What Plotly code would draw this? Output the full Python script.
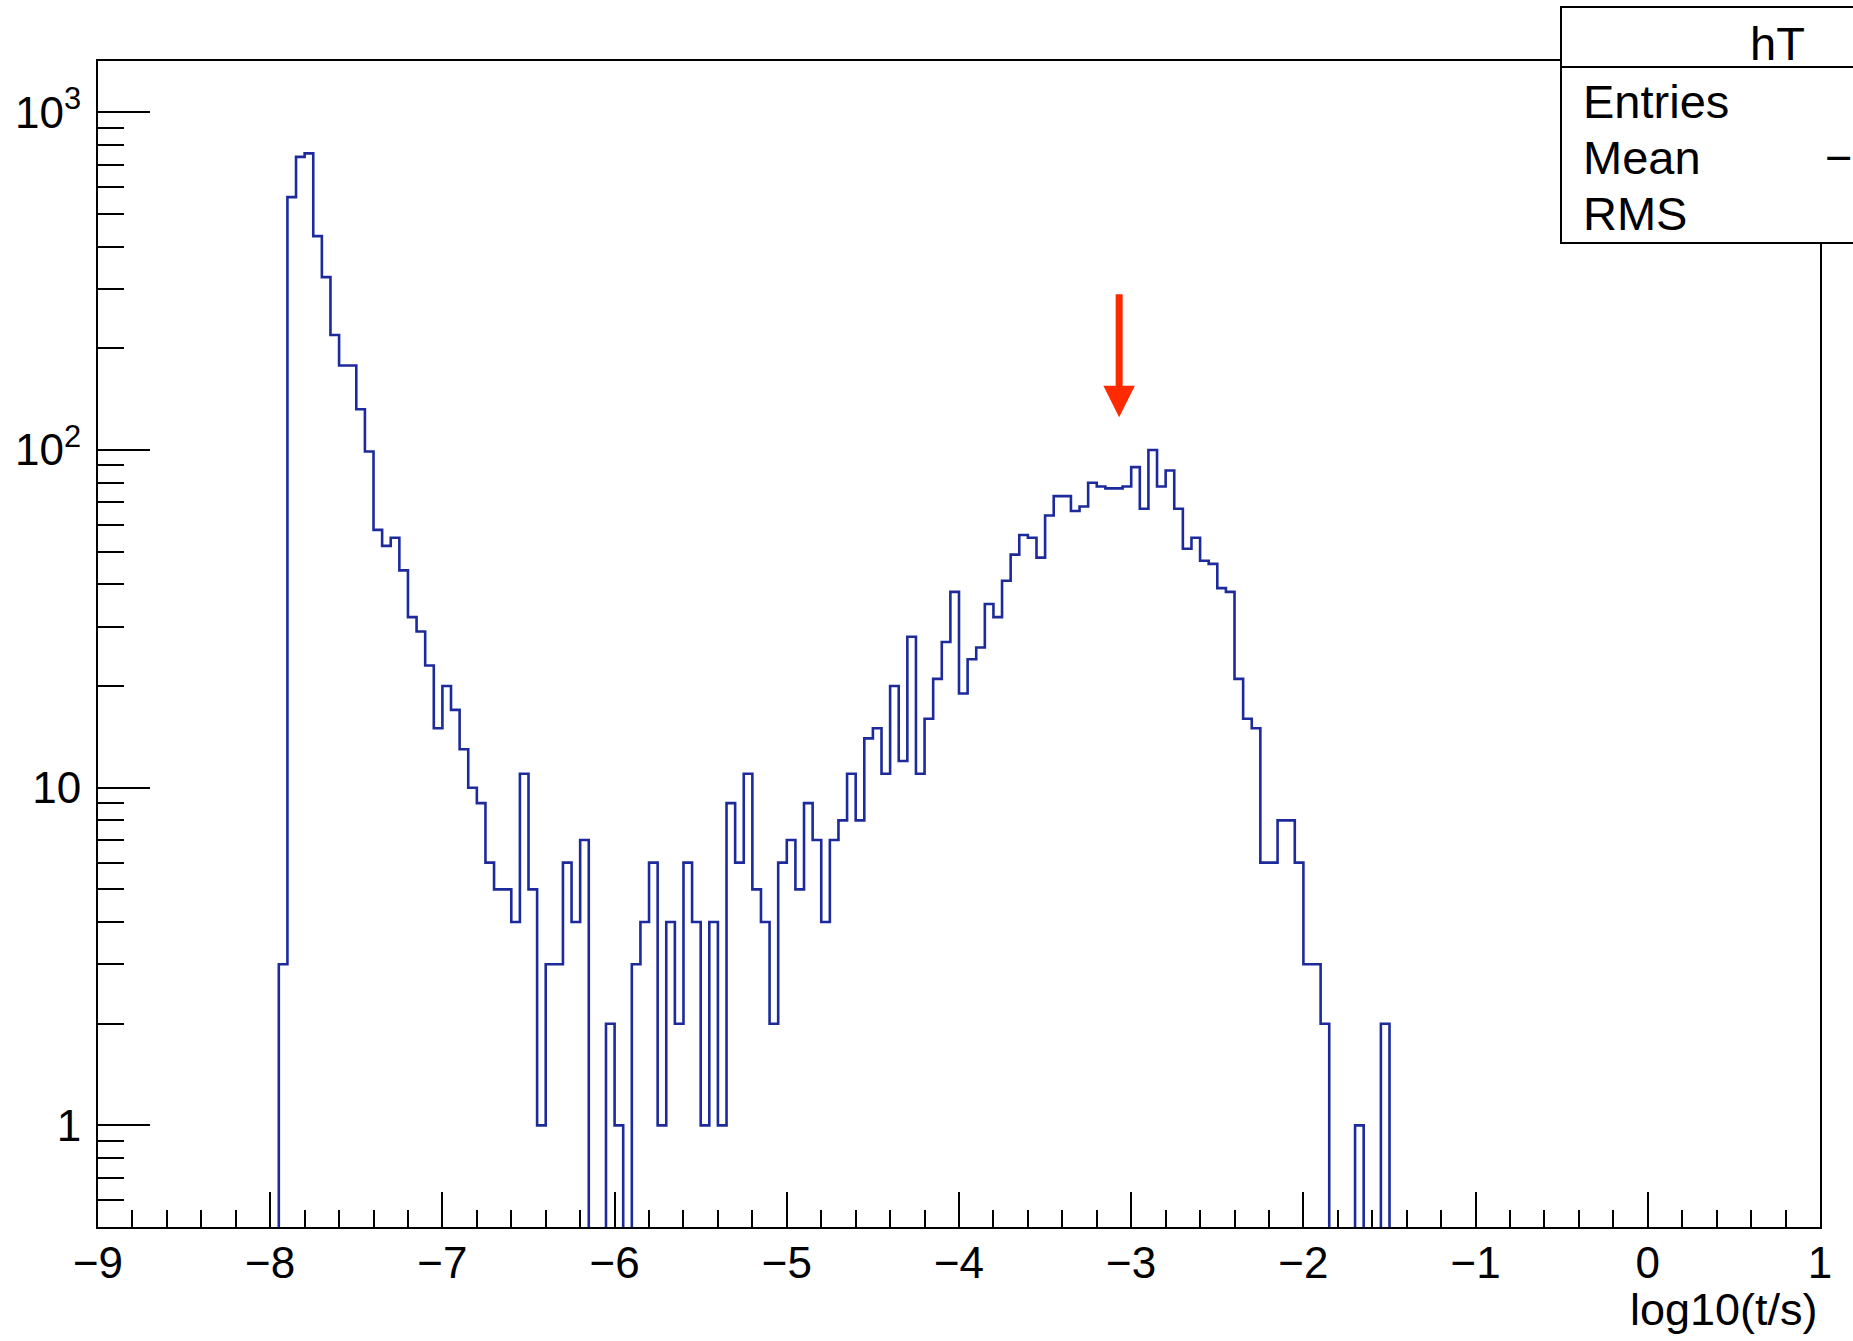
import numpy as np
import plotly.graph_objects as go

# ---------------- data ----------------
bin_low = -9.0
bin_width = 0.05
counts = (
    [0] * 21 +
    [3, 561, 738, 756, 430, 325, 219, 178, 178,            # 21-29
     132, 99, 58, 52, 55, 44, 32, 29, 23, 15,              # 30-39
     20, 17, 13, 10, 9, 6, 5, 5, 4, 11,                    # 40-49
     5, 1, 3, 3, 6, 4, 7, 0, 0, 2,                         # 50-59
     1, 0, 3, 4, 6, 1, 4, 2, 6, 4,                         # 60-69
     1, 4, 1, 9, 6, 11, 5, 4, 2, 6,                        # 70-79
     7, 5, 9, 7, 4, 7, 8, 11, 8, 14,                       # 80-89
     15, 11, 20, 12, 28, 11, 16, 21, 27, 38,               # 90-99
     19, 24, 26, 35, 32, 41, 49, 56, 55, 48,               # 100-109
     64, 73, 73, 66, 68, 80, 78, 77, 77, 78,               # 110-119
     89, 67, 100, 78, 87, 67, 51, 55, 47, 46,              # 120-129
     39, 38, 21, 16, 15, 6, 6, 8, 8, 6,                    # 130-139
     3, 3, 2, 0, 0, 0, 1, 0, 0, 2] +                       # 140-149
    [0] * 50
)

x_tick_vals = list(range(-9, 2))
x_tick_text = [("\u2212" + str(-v)) if v < 0 else str(v) for v in x_tick_vals]
y_tick_vals = [1, 10, 100, 1000]
y_tick_text = ["1", "10", "10<sup>2</sup>", "10<sup>3</sup>"]
y_minor_vals = [0.6, 0.7, 0.8, 0.9] + [k * 10 ** d for d in range(0, 3) for k in range(2, 10)]
x_title = "log10(t/s)"
hist_name = "hT"
arrow_x = -3.07
arrow_tail = 292
arrow_tip = 125

# ---------------- derived ----------------
counts_arr = np.array(counts, dtype=float)
edges = bin_low + bin_width * np.arange(len(counts) + 1)
centers = 0.5 * (edges[:-1] + edges[1:])
floor = 1e-2  # empty bins drawn below the frame
y_plot = np.where(counts_arr > 0, counts_arr, floor)
x_step = edges
y_step = np.append(y_plot, y_plot[-1])

entries = int(counts_arr.sum())
mean = float((counts_arr * centers).sum() / counts_arr.sum())
rms = float(np.sqrt((counts_arr * (centers - mean) ** 2).sum() / counts_arr.sum()))


def fmt(v):
    s = "%.3f" % v
    return s.replace("-", "\u2212")


W, H = 1853, 1341
L, R, T, B = 98, 1820, 61, 1227
pw, ph = R - L, B - T


def px(xp):
    return (xp - L) / pw


def py(yp):
    return (B - yp) / ph


FONT = "Liberation Sans, Arial, Helvetica, sans-serif"
HCOL = "#1c2a9c"

fig = go.Figure()
fig.add_trace(go.Scatter(
    x=x_step, y=y_step, mode="lines", line=dict(shape="hv", color=HCOL, width=2.6),
    hoverinfo="skip", showlegend=False))
fig.add_trace(go.Scatter(x=[None], y=[None], yaxis="y2", showlegend=False, hoverinfo="skip"))

yr = [-0.301, 3.152]
fig.update_layout(
    width=W, height=H,
    margin=dict(l=L, r=W - R, t=T, b=H - B, pad=0),
    paper_bgcolor="white", plot_bgcolor="white",
    showlegend=False,
    font=dict(family=FONT, color="black"),
    xaxis=dict(
        range=[-9, 1], tickvals=x_tick_vals, ticktext=x_tick_text,
        ticks="inside", ticklen=35, tickwidth=2, tickcolor="black",
        minor=dict(dtick=0.2, tick0=-9, ticks="inside", ticklen=17, tickwidth=2, tickcolor="black"),
        showline=True, linecolor="black", linewidth=2, mirror=True,
        showgrid=False, zeroline=False, tickfont=dict(size=44, family=FONT),
        ticklabelstandoff=-4,
    ),
    yaxis=dict(
        type="log", range=yr, tickvals=y_tick_vals, ticktext=y_tick_text,
        ticks="inside", ticklen=52, tickwidth=2, tickcolor="black",
        showline=True, linecolor="black", linewidth=2, mirror=True,
        showgrid=False, zeroline=False, tickfont=dict(size=44, family=FONT),
        ticklabelstandoff=6,
    ),
    yaxis2=dict(
        type="log", range=yr, overlaying="y", side="left", anchor="x",
        tickvals=y_minor_vals, ticks="inside", ticklen=26, tickwidth=2, tickcolor="black",
        showticklabels=False, showgrid=False, zeroline=False, showline=False,
    ),
)

# stats box
box_left, box_top, box_bot, box_hdr = 1561, 7, 243, 67
fig.add_shape(type="rect", xref="paper", yref="paper",
              x0=px(box_left), x1=px(W + 200), y0=py(box_bot), y1=py(box_top),
              line=dict(color="black", width=2), fillcolor="white", layer="above")
fig.add_shape(type="line", xref="paper", yref="paper",
              x0=px(box_left), x1=px(W + 200), y0=py(box_hdr), y1=py(box_hdr),
              line=dict(color="black", width=2), layer="above")

SF = 47
fig.add_annotation(text=hist_name, xref="paper", yref="paper", x=px(1748), y=py(44),
                   xanchor="left", yanchor="middle", showarrow=False, font=dict(size=SF, family=FONT))
for lab, val, yy in [("Entries", str(entries), 101), ("Mean", fmt(mean), 157), ("RMS", fmt(rms), 213)]:
    fig.add_annotation(text=lab, xref="paper", yref="paper", x=px(1581), y=py(yy),
                       xanchor="left", yanchor="middle", showarrow=False, font=dict(size=SF, family=FONT))
    vx = 1823 if val.startswith("\u2212") else 1875
    fig.add_annotation(text=val, xref="paper", yref="paper", x=px(vx), y=py(yy),
                       xanchor="left", yanchor="middle", showarrow=False, font=dict(size=SF, family=FONT))

# axis title
fig.add_annotation(text=x_title, xref="paper", yref="paper", x=1.0, y=py(1309),
                   xanchor="right", yanchor="middle", showarrow=False, font=dict(size=45, family=FONT))

# red arrow
fig.add_annotation(x=arrow_x, y=np.log10(arrow_tip), ax=arrow_x, ay=np.log10(arrow_tail),
                   xref="x", yref="y", axref="x", ayref="y", text="", showarrow=True,
                   arrowhead=2, arrowsize=0.9, arrowwidth=7, arrowcolor="#ff2a00", standoff=0)

fig.write_html("out.html", config={"displayModeBar": False},
               post_script="document.body.style.margin='0px';document.body.style.overflow='hidden';")
